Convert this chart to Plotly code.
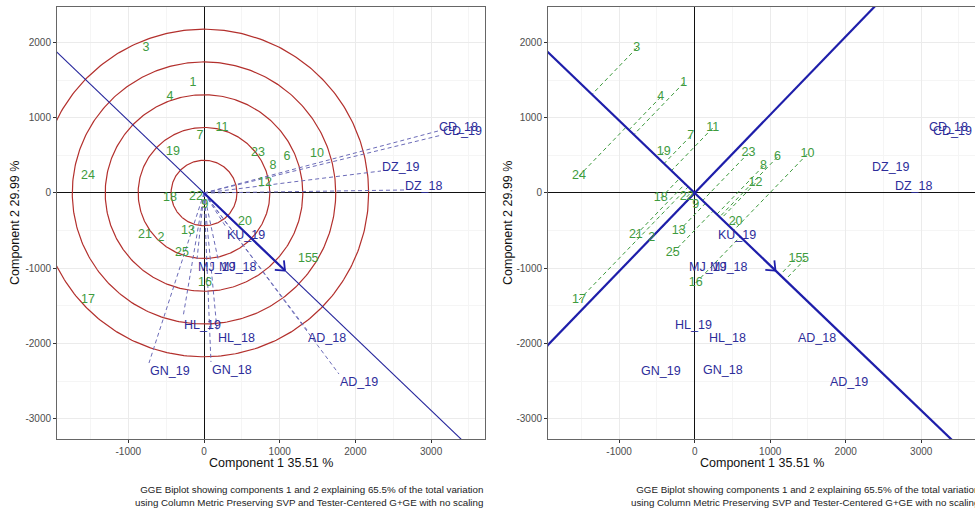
import numpy as np
import plotly.graph_objects as go

# ---------------- data ----------------
genotypes = ["1", "2", "3", "4", "5", "6", "7", "8", "9", "10", "11", "12", "13",
             "15", "16", "17", "18", "19", "20", "21", "22", "23", "24", "25"]
gen_x = [-145, -568, -766, -449, 1466, 1096, -53, 911, 13, 1493, 238, 806, -211,
         1334, 13, -1532, -449, -410, 542, -779, -106, 713, -1532, -291]
gen_y = [1461, -598, 1926, 1275, -876, 478, 757, 359, -159, 518, 863, 133, -505,
         -876, -1195, -1421, -66, 545, -385, -558, -53, 531, 226, -797]

environments = ["AD_18", "AD_19", "CD_18", "CD_19", "DZ_18", "DZ_19", "GN_18", "GN_19",
                "HL_18", "HL_19", "KU_19", "MJ_18", "MJ_19"]
env_x = [1361, 1783, 3091, 3144, 2642, 2338, 92, -727, 172, -277, 291, 185, -92]
env_y = [-1819, -2404, 823, 770, 40, 292, -2244, -2258, -1819, -1647, -452, -876, -876]

mean_env = [1070, -1030]          # average-environment point (arrow tip)
circle_radii = [435, 870, 1305, 1740, 2175]

x_ticks = [-1000, 0, 1000, 2000, 3000]
y_ticks = [-3000, -2000, -1000, 0, 1000, 2000]
x_range = [-1942, 3712]
y_range = [-3267, 2470]

x_title = "Component 1 35.51 %"
y_title = "Component 2 29.99 %"
caption = ("GGE Biplot showing components 1 and 2 explaining 65.5% of the total variation<br>"
           "using Column Metric Preserving SVP and Tester-Centered G+GE with no scaling")

# ---------------- styles ----------------
FONT = "Liberation Sans, Arial, sans-serif"
GREEN = "#3E9B3E"
ENV_BLUE = "#2D2D9A"
LINE_BLUE = "#1E1EAA"
CIRCLE = "#B3302D"
W, H = 975, 511

gx = np.array(gen_x, float)
gy = np.array(gen_y, float)
ex = np.array(env_x, float)
ey = np.array(env_y, float)
m = np.array(mean_env, float)
u = m / np.linalg.norm(m)
v = np.array([-u[1], u[0]])

fig = go.Figure()


def seg_xy(x0, y0, x1, y1):
    xs, ys = [], []
    for a, b, c, d in zip(x0, y0, x1, y1):
        xs += [a, c, None]
        ys += [b, d, None]
    return xs, ys


def arrow_head(tip, direction, length, angle_deg):
    back = -direction
    xs, ys = [], []
    for s in (1, -1):
        a = np.deg2rad(angle_deg) * s
        r = np.array([back[0] * np.cos(a) - back[1] * np.sin(a),
                      back[0] * np.sin(a) + back[1] * np.cos(a)])
        p = tip + r * length
        xs += [tip[0], p[0], None]
        ys += [tip[1], p[1], None]
    return xs, ys


t = np.array([-9000.0, 9000.0])

# ======== LEFT PANEL ========
th = np.linspace(0, 2 * np.pi, 361)
cx, cy = [], []
for r in circle_radii:
    cx += list(r * np.cos(th)) + [None]
    cy += list(r * np.sin(th)) + [None]
fig.add_trace(go.Scatter(x=cx, y=cy, mode="lines", line=dict(color=CIRCLE, width=1.2),
                         xaxis="x", yaxis="y"))
# average environment axis (thin)
fig.add_trace(go.Scatter(x=t * u[0], y=t * u[1], mode="lines",
                         line=dict(color="#26269C", width=1.1), xaxis="x", yaxis="y"))
# environment vectors (dashed)
sx, sy = seg_xy(np.zeros_like(ex), np.zeros_like(ey), ex, ey)
fig.add_trace(go.Scatter(x=sx, y=sy, mode="lines",
                         line=dict(color="#6B6BB8", width=1, dash="4px,3px"),
                         xaxis="x", yaxis="y"))
# arrow to mean environment
fig.add_trace(go.Scatter(x=[0, m[0]], y=[0, m[1]], mode="lines",
                         line=dict(color=LINE_BLUE, width=2.2), xaxis="x", yaxis="y"))
hx, hy = arrow_head(m, u, 135, 40)
fig.add_trace(go.Scatter(x=hx, y=hy, mode="lines",
                         line=dict(color=LINE_BLUE, width=1.8), xaxis="x", yaxis="y"))
# genotype labels
fig.add_trace(go.Scatter(x=gx, y=gy, mode="text", text=genotypes,
                         textfont=dict(color=GREEN, size=12.5, family=FONT),
                         xaxis="x", yaxis="y"))

# ======== RIGHT PANEL ========
proj = np.outer(gx * u[0] + gy * u[1], u)
sx, sy = seg_xy(gx, gy, proj[:, 0], proj[:, 1])
fig.add_trace(go.Scatter(x=sx, y=sy, mode="lines",
                         line=dict(color=GREEN, width=1, dash="4px,3px"),
                         xaxis="x2", yaxis="y2"))
fig.add_trace(go.Scatter(x=t * u[0], y=t * u[1], mode="lines",
                         line=dict(color=LINE_BLUE, width=2.2), xaxis="x2", yaxis="y2"))
fig.add_trace(go.Scatter(x=t * v[0], y=t * v[1], mode="lines",
                         line=dict(color=LINE_BLUE, width=2.2), xaxis="x2", yaxis="y2"))
fig.add_trace(go.Scatter(x=hx, y=hy, mode="lines",
                         line=dict(color=LINE_BLUE, width=1.8), xaxis="x2", yaxis="y2"))
fig.add_trace(go.Scatter(x=gx, y=gy, mode="text", text=genotypes,
                         textfont=dict(color=GREEN, size=12.5, family=FONT),
                         xaxis="x2", yaxis="y2"))

# environment labels (left-anchored at the environment point)
annotations = []
for xr, yr in (("x", "y"), ("x2", "y2")):
    for name, a, b in zip(environments, env_x, env_y):
        annotations.append(dict(x=a, y=b, xref=xr, yref=yr, text=name, showarrow=False,
                                xanchor="left", yanchor="bottom" if b > 0 else "top",
                                yshift=-4 if b > 0 else 0,
                                borderpad=0,
                                font=dict(color=ENV_BLUE, size=12.5, family=FONT)))

# axes
y_dom = [1 - 439 / H, 1 - 7 / H]
panels = [([57 / W, 485 / W], "x", "y"), ([548 / W, 1.0], "x2", "y2")]
minor_x = [v_ - 500 for v_ in x_ticks] + [x_ticks[-1] + 500]
minor_y = [v_ - 500 for v_ in y_ticks] + [y_ticks[-1] + 500]


def ax_common():
    return dict(ticks="outside", ticklen=3, tickwidth=1, tickcolor="#333333",
                tickfont=dict(size=10, color="#4D4D4D", family=FONT),
                showgrid=True, gridcolor="#EBEBEB", gridwidth=1,
                zeroline=True, zerolinecolor="#111111", zerolinewidth=1.3,
                showline=True, mirror=True, linecolor="#666666", linewidth=1)


layout_axes = {}
for i, (xd, xn, yn) in enumerate(panels):
    sfx = "" if i == 0 else "2"
    xa = ax_common()
    xa.update(domain=xd, range=x_range, tickmode="array", tickvals=x_ticks,
              ticktext=[str(v_) for v_ in x_ticks], anchor=yn,
              minor=dict(tickmode="array", tickvals=minor_x, showgrid=True,
                         gridcolor="#F5F5F5", gridwidth=0.6, ticks=""))
    ya = ax_common()
    ya.update(domain=y_dom, range=y_range, tickmode="array", tickvals=y_ticks,
              ticktext=[str(v_) for v_ in y_ticks], anchor=xn,
              minor=dict(tickmode="array", tickvals=minor_y, showgrid=True,
                         gridcolor="#F5F5F5", gridwidth=0.6, ticks=""))
    layout_axes["xaxis" + sfx] = xa
    layout_axes["yaxis" + sfx] = ya

    xc = (xd[0] + xd[1]) / 2 if i == 0 else (548 + 976) / 2 / W
    annotations.append(dict(x=xc, y=1 - 463 / H, xref="paper", yref="paper", text=x_title,
                            showarrow=False, xanchor="center", yanchor="middle",
                            font=dict(size=12.5, color="#111111", family=FONT)))
    annotations.append(dict(x=(15 if i == 0 else 508) / W, y=1 - 223 / H, xref="paper",
                            yref="paper", text=y_title, textangle=-90, showarrow=False,
                            xanchor="center", yanchor="middle",
                            font=dict(size=12.5, color="#111111", family=FONT)))
    annotations.append(dict(x=(485 if i == 0 else 981) / W, y=1 - 496 / H, xref="paper",
                            yref="paper", text=caption, showarrow=False, align="right",
                            xanchor="right", yanchor="middle",
                            font=dict(size=9.75, color="#222222", family=FONT)))

fig.update_layout(width=W, height=H, margin=dict(l=0, r=0, t=0, b=0),
                  paper_bgcolor="white", plot_bgcolor="white", showlegend=False,
                  annotations=annotations, **layout_axes)
fig.update_traces(hoverinfo="skip")
fig.write_html("out.html")
